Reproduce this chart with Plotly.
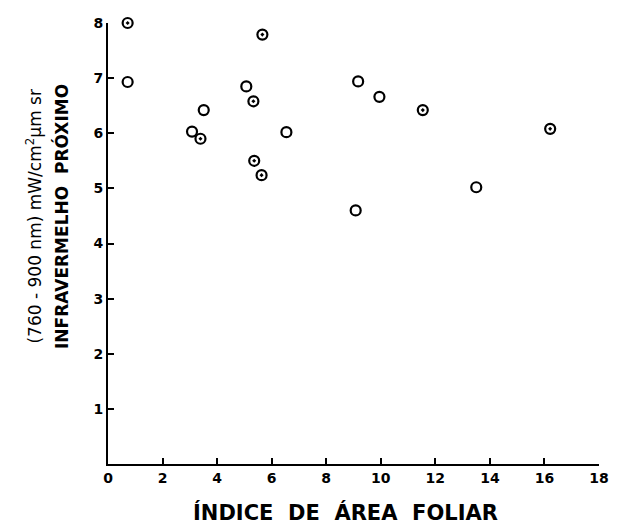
import plotly.graph_objects as go

# Data
iaf = [0.72, 0.72, 3.08, 3.39, 3.51, 5.07, 5.33, 5.66, 5.36, 5.63, 6.54, 9.08, 9.17, 9.95, 11.54, 13.5, 16.21]
infravermelho = [8.0, 6.93, 6.03, 5.9, 6.42, 6.85, 6.58, 7.79, 5.5, 5.24, 6.02, 4.6, 6.94, 6.66, 6.42, 5.02, 6.08]
dotted = [True, False, False, True, False, False, True, True, True, True, False, False, False, False, True, False, True]

x_ticks = [0, 2, 4, 6, 8, 10, 12, 14, 16, 18]
y_ticks = [1, 2, 3, 4, 5, 6, 7, 8]

symbols = ["circle-open-dot" if d else "circle-open" for d in dotted]

fig = go.Figure()
fig.add_trace(go.Scatter(
    x=iaf, y=infravermelho, mode="markers",
    marker=dict(symbol=symbols, size=10, color="black", line=dict(width=2.2, color="black")),
    cliponaxis=False, showlegend=False,
))

font_family = "DejaVu Sans"
fig.update_layout(
    width=618, height=526,
    margin=dict(l=108, r=9, t=23, b=62),
    paper_bgcolor="white", plot_bgcolor="white",
    font=dict(family=font_family, color="black"),
    xaxis=dict(range=[0, 18], tickvals=x_ticks, ticktext=[str(v) for v in x_ticks],
               showgrid=False, zeroline=False, showline=True, linecolor="black", linewidth=2,
               ticks="inside", ticklen=6, tickwidth=2, tickcolor="black",
               ticklabeloverflow="allow",
               tickfont=dict(size=14, weight="bold", family=font_family)),
    yaxis=dict(range=[0, 8], tickvals=y_ticks, ticktext=[str(v) for v in y_ticks],
               showgrid=False, zeroline=False, showline=True, linecolor="black", linewidth=2,
               ticks="inside", ticklen=6, tickwidth=2, tickcolor="black",
               tickfont=dict(size=14, weight="bold", family=font_family)),
    annotations=[
        dict(text="(760 - 900 nm) mW/cm<sup>2</sup>µm sr", xref="paper", yref="paper",
             x=-0.150, y=0.562, xanchor="center", yanchor="middle", textangle=-90, showarrow=False,
             font=dict(size=17, family=font_family)),
        dict(text="INFRAVERMELHO  PRÓXIMO", xref="paper", yref="paper",
             x=-0.096, y=0.562, xanchor="center", yanchor="middle", textangle=-90, showarrow=False,
             font=dict(size=17, weight="bold", family=font_family)),
        dict(text="ÍNDICE  DE  ÁREA  FOLIAR", xref="paper", yref="paper",
             x=0.483, y=-0.111, xanchor="center", yanchor="middle", showarrow=False,
             font=dict(size=21, weight="bold", family=font_family)),
    ],
)

page_css = (
    "var h=document.documentElement,b=document.body;"
    "h.style.margin='0';h.style.padding='0';h.style.overflow='hidden';"
    "b.style.margin='0';b.style.padding='0';b.style.overflow='hidden';"
)
fig.write_html("out.html", config={"displayModeBar": False}, post_script=page_css)
